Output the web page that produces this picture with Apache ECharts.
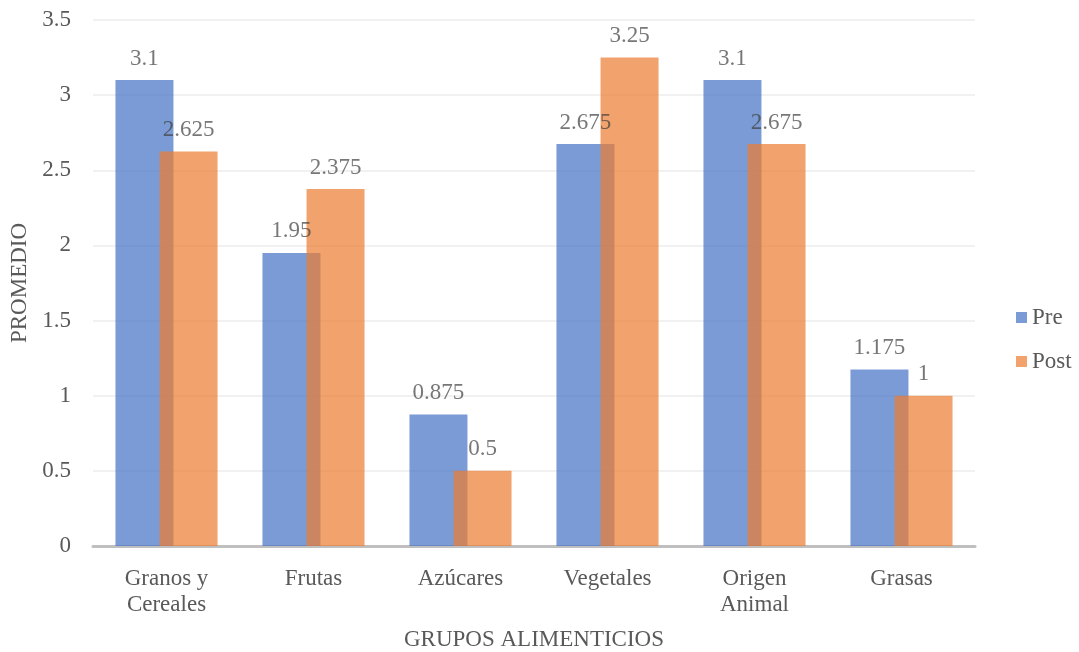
<!DOCTYPE html>
<html>
<head>
<meta charset="utf-8">
<script src="https://cdn.jsdelivr.net/npm/echarts@6/dist/echarts.min.js"></script>
<style>
  html, body { margin: 0; padding: 0; background: #fff; }
  #chart { width: 1079px; height: 652px; }
</style>
</head>
<body>
<div id="chart"></div>
<script>
// Food groups and average scores before and after
const categories = ['Granos y\nCereales', 'Frutas', 'Azúcares', 'Vegetales', 'Origen\nAnimal', 'Grasas'];
const preValues = [3.1, 1.95, 0.875, 2.675, 3.1, 1.175];
const postValues = [2.625, 2.375, 0.5, 3.25, 2.675, 1];
const yTicks = { min: 0, max: 3.5, interval: 0.5 };

const FONT = '"Liberation Serif", "Times New Roman", serif';
const TEXT = '#595959';
const SIZE = 23;

const chart = echarts.init(document.getElementById('chart'), null, { renderer: 'canvas' });

const labelStyle = {
  show: true,
  position: 'top',
  distance: 10,
  fontFamily: FONT,
  fontSize: SIZE,
  color: '#404040'
};

chart.setOption({
  animation: false,
  textStyle: { fontFamily: FONT },
  grid: {
    left: 93, right: 104, top: 20, bottom: 106,
    containLabel: false,
    outerBoundsMode: 'none'
  },
  legend: {
    orient: 'vertical',
    left: 1011,
    top: 301,
    itemWidth: 11,
    itemHeight: 11,
    itemGap: 21,
    icon: 'rect',
    textStyle: { fontFamily: FONT, fontSize: SIZE, color: TEXT },
    data: ['Pre', 'Post']
  },
  xAxis: {
    type: 'category',
    data: categories,
    name: 'GRUPOS ALIMENTICIOS',
    nameLocation: 'middle',
    nameGap: 82,
    nameTextStyle: { fontFamily: FONT, fontSize: SIZE, color: TEXT },
    axisLine: { lineStyle: { color: '#BFBFBF', width: 3 } },
    axisTick: { show: false },
    axisLabel: { fontFamily: FONT, fontSize: SIZE, color: TEXT, margin: 20, lineHeight: 26, interval: 0 }
  },
  yAxis: {
    type: 'value',
    min: yTicks.min,
    max: yTicks.max,
    interval: yTicks.interval,
    name: 'PROMEDIO',
    nameLocation: 'middle',
    nameGap: 60,
    nameRotate: 90,
    nameTextStyle: { fontFamily: FONT, fontSize: SIZE, color: TEXT },
    axisLine: { show: false },
    axisTick: { show: false },
    axisLabel: { fontFamily: FONT, fontSize: SIZE, color: TEXT, margin: 22 },
    splitLine: { lineStyle: { color: '#EDEDED', width: 1.5 } }
  },
  series: [
    {
      name: 'Pre',
      type: 'bar',
      data: preValues,
      barWidth: 58,
      barGap: '-24%',
      itemStyle: { color: '#4472C4', opacity: 0.71 },
      label: labelStyle
    },
    {
      name: 'Post',
      type: 'bar',
      data: postValues,
      barWidth: 58,
      barGap: '-24%',
      itemStyle: { color: '#ED7D31', opacity: 0.71 },
      label: labelStyle
    }
  ]
});
</script>
</body>
</html>
